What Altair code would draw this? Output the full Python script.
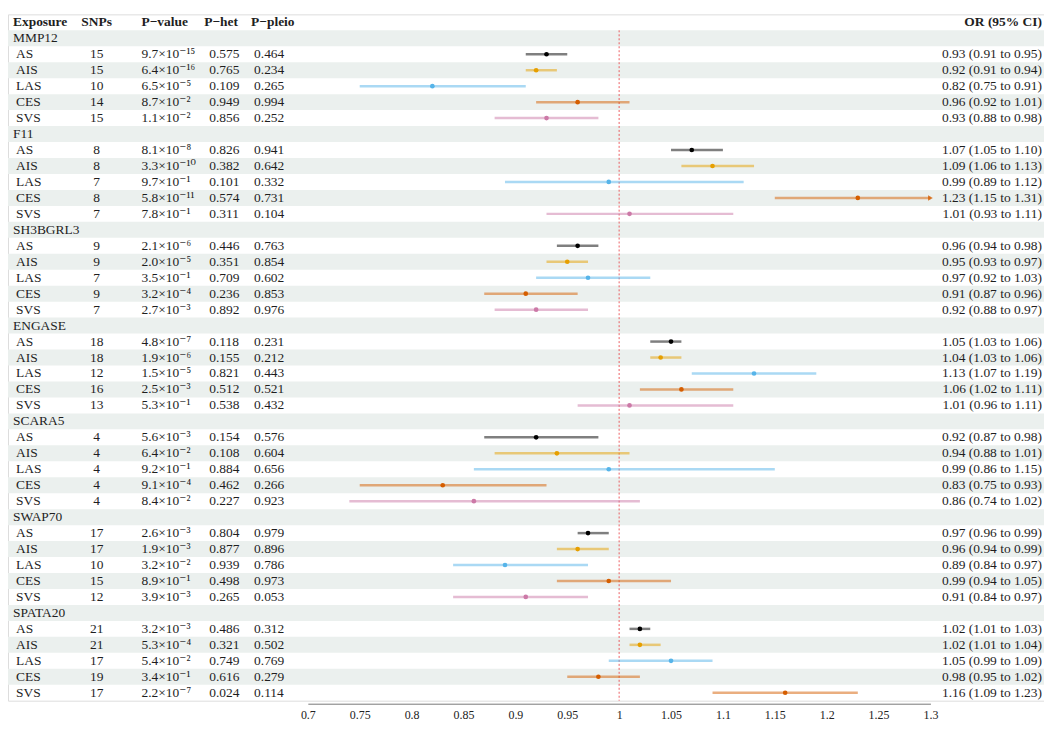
import altair as alt
import pandas as pd

genes = ["MMP12", "F11", "SH3BGRL3", "ENGASE", "SCARA5", "SWAP70", "SPATA20"]
exposures = ["AS", "AIS", "LAS", "CES", "SVS"]

snps = [15, 15, 10, 14, 15,
        8, 8, 7, 8, 7,
        9, 9, 7, 9, 7,
        18, 18, 12, 16, 13,
        4, 4, 4, 4, 4,
        17, 17, 10, 15, 12,
        21, 21, 17, 19, 17]

p_value = ["9.7×10⁻¹⁵", "6.4×10⁻¹⁶", "6.5×10⁻⁵", "8.7×10⁻²", "1.1×10⁻²",
           "8.1×10⁻⁸", "3.3×10⁻¹⁰", "9.7×10⁻¹", "5.8×10⁻¹¹", "7.8×10⁻¹",
           "2.1×10⁻⁶", "2.0×10⁻⁵", "3.5×10⁻¹", "3.2×10⁻⁴", "2.7×10⁻³",
           "4.8×10⁻⁷", "1.9×10⁻⁶", "1.5×10⁻⁵", "2.5×10⁻³", "5.3×10⁻¹",
           "5.6×10⁻³", "6.4×10⁻²", "9.2×10⁻¹", "9.1×10⁻⁴", "8.4×10⁻²",
           "2.6×10⁻³", "1.9×10⁻³", "3.2×10⁻²", "8.9×10⁻¹", "3.9×10⁻³",
           "3.2×10⁻³", "5.3×10⁻⁴", "5.4×10⁻²", "3.4×10⁻¹", "2.2×10⁻⁷"]

p_het = ["0.575", "0.765", "0.109", "0.949", "0.856",
         "0.826", "0.382", "0.101", "0.574", "0.311",
         "0.446", "0.351", "0.709", "0.236", "0.892",
         "0.118", "0.155", "0.821", "0.512", "0.538",
         "0.154", "0.108", "0.884", "0.462", "0.227",
         "0.804", "0.877", "0.939", "0.498", "0.265",
         "0.486", "0.321", "0.749", "0.616", "0.024"]

p_pleio = ["0.464", "0.234", "0.265", "0.994", "0.252",
           "0.941", "0.642", "0.332", "0.731", "0.104",
           "0.763", "0.854", "0.602", "0.853", "0.976",
           "0.231", "0.212", "0.443", "0.521", "0.432",
           "0.576", "0.604", "0.656", "0.266", "0.923",
           "0.979", "0.896", "0.786", "0.973", "0.053",
           "0.312", "0.502", "0.769", "0.279", "0.114"]

or_est = [0.93, 0.92, 0.82, 0.96, 0.93,
          1.07, 1.09, 0.99, 1.23, 1.01,
          0.96, 0.95, 0.97, 0.91, 0.92,
          1.05, 1.04, 1.13, 1.06, 1.01,
          0.92, 0.94, 0.99, 0.83, 0.86,
          0.97, 0.96, 0.89, 0.99, 0.91,
          1.02, 1.02, 1.05, 0.98, 1.16]

or_lo = [0.91, 0.91, 0.75, 0.92, 0.88,
         1.05, 1.06, 0.89, 1.15, 0.93,
         0.94, 0.93, 0.92, 0.87, 0.88,
         1.03, 1.03, 1.07, 1.02, 0.96,
         0.87, 0.88, 0.86, 0.75, 0.74,
         0.96, 0.94, 0.84, 0.94, 0.84,
         1.01, 1.01, 0.99, 0.95, 1.09]

or_hi = [0.95, 0.94, 0.91, 1.01, 0.98,
         1.10, 1.13, 1.12, 1.31, 1.11,
         0.98, 0.97, 1.03, 0.96, 0.97,
         1.06, 1.06, 1.19, 1.11, 1.11,
         0.98, 1.01, 1.15, 0.93, 1.02,
         0.99, 0.99, 0.97, 1.05, 0.97,
         1.03, 1.04, 1.09, 1.02, 1.23]

# colour group drawn for each row (last row is drawn in the CES colour in the original)
colour_group = (exposures * 6) + ["AS", "AIS", "LAS", "CES", "CES"]

palette = ["#000000", "#E69F00", "#56B4E9", "#D55E00", "#CC79A7"]
x_ticks = [0.7, 0.75, 0.8, 0.85, 0.9, 0.95, 1.0, 1.05, 1.1, 1.15, 1.2, 1.25, 1.3]
x_min, x_max = 0.7, 1.3

# ---------- build tables ----------
rows = []
r = 1
k = 0
for g in genes:
    rows.append(dict(row=r, kind="gene", label=g))
    r += 1
    for e in exposures:
        hi_clip = min(or_hi[k], x_max)
        rows.append(dict(row=r, kind="exp", label=e, snps=str(snps[k]),
                         pval=p_value[k], phet=p_het[k], ppleio=p_pleio[k],
                         est=or_est[k], lo=or_lo[k], hi=or_hi[k], hi_clip=hi_clip,
                         arrow=or_hi[k] > x_max, grp=colour_group[k],
                         ortext=f"{or_est[k]:.2f} ({or_lo[k]:.2f} to {or_hi[k]:.2f})"))
        r += 1
        k += 1
n_rows = r  # includes header row 0
df = pd.DataFrame(rows)
df_exp = df[df.kind == "exp"].copy()
df_gene = df[df.kind == "gene"].copy()
df_arrow = df_exp[df_exp.arrow].copy()

band_df = pd.DataFrame({"row": [i for i in range(n_rows) if i % 2 == 1]})
band_df["y0"] = band_df["row"] - 0.5
band_df["y1"] = band_df["row"] + 0.5

W = 1040
FONT = "'Liberation Serif', 'Times New Roman', 'DejaVu Serif', serif"
FS = 13.5
TXT = "#1e1e1e"

yscale = alt.Scale(domain=[-0.5, n_rows - 0.5], reverse=True, nice=False, zero=False)
xscale = alt.Scale(domain=[x_min, x_max], range=[301, 926], nice=False, zero=False)

bands = alt.Chart(band_df).mark_rect(color="#EBF0EE").encode(
    y=alt.Y("y0:Q", scale=yscale, axis=None),
    y2="y1:Q",
    x=alt.value(0), x2=alt.value(W),
)


def text_layer(data, field, xpos, align="left", bold=False):
    return alt.Chart(data).mark_text(
        align=align, baseline="middle", font=FONT, fontSize=FS,
        fontWeight="bold" if bold else "normal", color=TXT,
    ).encode(
        y=alt.Y("row:Q", scale=yscale, axis=None),
        x=alt.value(xpos),
        text=f"{field}:N",
    )


header_df = pd.DataFrame({"row": [0], "exposure": ["Exposure"], "snps": ["SNPs"],
                          "pval": ["P\u2212value"], "phet": ["P\u2212het"],
                          "ppleio": ["P\u2212pleio"], "ortext": ["OR (95% CI)"]})

headers = [
    text_layer(header_df, "exposure", 5, "left", True),
    text_layer(header_df, "snps", 89, "center", True),
    text_layer(header_df, "pval", 134, "left", True),
    text_layer(header_df, "phet", 197, "left", True),
    text_layer(header_df, "ppleio", 244, "left", True),
    text_layer(header_df, "ortext", W - 2, "right", True),
]

cols = [
    text_layer(df_gene, "label", 5, "left"),
    text_layer(df_exp, "label", 8, "left"),
    text_layer(df_exp, "snps", 89, "center"),
    text_layer(df_exp, "pval", 134, "left"),
    text_layer(df_exp, "phet", 202, "left"),
    text_layer(df_exp, "ppleio", 247, "left"),
    text_layer(df_exp, "ortext", W - 2, "right"),
]

ref_df = pd.DataFrame({"x": [1.0], "y0": [0.5], "y1": [n_rows - 0.5]})
ref = alt.Chart(ref_df).mark_rule(color="#E8383D", strokeDash=[2, 2], strokeWidth=1, opacity=0.8).encode(
    x=alt.X("x:Q", scale=xscale),
    y=alt.Y("y0:Q", scale=yscale, axis=None),
    y2="y1:Q",
)

colour = alt.Color("grp:N", scale=alt.Scale(domain=exposures, range=palette), legend=None)

ci = alt.Chart(df_exp).mark_rule(strokeWidth=2.5, opacity=0.5).encode(
    x=alt.X("lo:Q", scale=xscale,
            axis=alt.Axis(values=x_ticks, format=".2~f", title=None, grid=False,
                          ticks=False, domainColor="#777", labelFont=FONT,
                          labelFontSize=12, labelColor="#222", offset=3,
                          labelPadding=6, labelFlush=False, labelOverlap=False)),
    x2="hi_clip:Q",
    y=alt.Y("row:Q", scale=yscale, axis=None),
    color=colour,
)

arrow = alt.Chart(df_arrow).mark_point(shape="triangle-right", filled=True, size=30, opacity=0.8).encode(
    x=alt.X("hi_clip:Q", scale=xscale),
    y=alt.Y("row:Q", scale=yscale, axis=None),
    color=colour,
)

pts = alt.Chart(df_exp).mark_circle(size=22, opacity=1).encode(
    x=alt.X("est:Q", scale=xscale),
    y=alt.Y("row:Q", scale=yscale, axis=None),
    color=colour,
)

chart = alt.layer(bands, *headers, *cols, ref, ci, arrow, pts).properties(
    width=W, height=714,
    autosize=alt.AutoSizeParams(type="fit", contains="padding"),
    padding={"top": 5, "left": 0, "right": 0, "bottom": 0},
).configure_view(strokeWidth=0).configure(background="white")

chart.save("out.html", embed_options={"renderer": "svg", "actions": False})
